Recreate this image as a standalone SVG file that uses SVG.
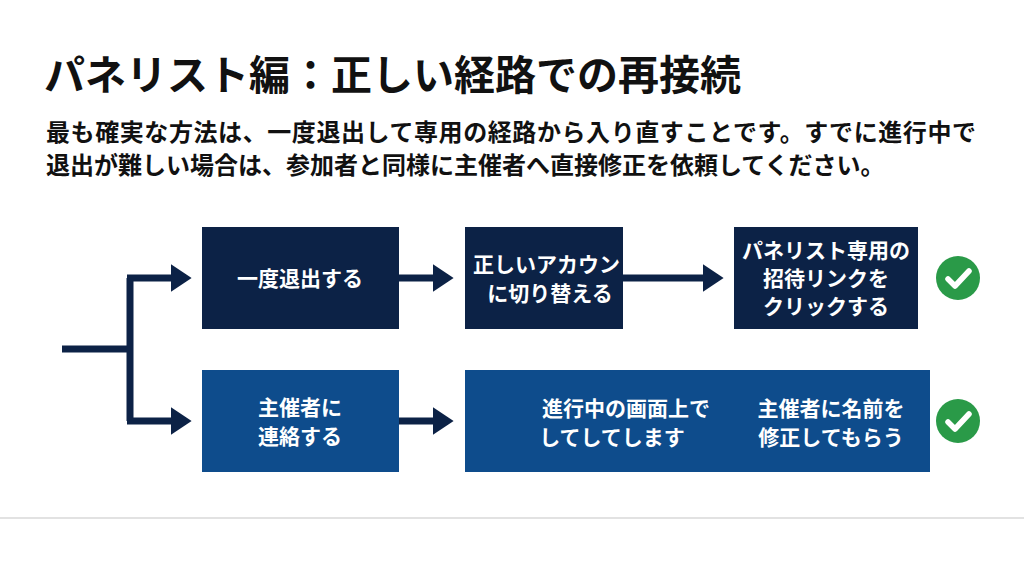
<svg xmlns="http://www.w3.org/2000/svg" width="1024" height="576" viewBox="0 0 1024 576">
<style>
text{font-family:"Noto Sans CJK JP","Noto Sans",sans-serif;font-weight:700}
.t{fill:#fff;font-size:21px;text-anchor:middle}
.dk{fill:#0c2246}.bl{fill:#0e4c8c}
.c{fill:none;stroke:#0c2246;stroke-width:7}
</style>
<defs>
<marker id="a" markerWidth="4" markerHeight="4" refX="2.2" refY="2" orient="auto" markerUnits="strokeWidth"><path d="M0,0L3,2L0,4Z" fill="#0c2246"/></marker>
<g id="chk"><circle r="22" fill="#2a9a48"/><path d="M-10,1L-3,8L11,-7" fill="none" stroke="#fff" stroke-width="5.5" stroke-linecap="round" stroke-linejoin="round"/></g>
</defs>
<rect width="1024" height="576" fill="#fff"/>
<line x1="0" y1="518" x2="1024" y2="518" stroke="#e2e2e2" stroke-width="2"/>
<text x="44" y="90" font-size="41" fill="#111">パネリスト編：正しい経路での再接続</text>
<text x="46" y="141" font-size="24" fill="#111" textLength="930">最も確実な方法は、一度退出して専用の経路から入り直すことです。すでに進行中で</text>
<text x="46" y="174" font-size="24" fill="#111">退出が難しい場合は、参加者と同様に主催者へ直接修正を依頼してください。</text>
<g id="connectors">
<path class="c" d="M62,349H130"/>
<path class="c" d="M130,278V421"/>
<path class="c" d="M127,278H186" marker-end="url(#a)"/>
<path class="c" d="M127,421H186" marker-end="url(#a)"/>
<path class="c" d="M399,278H448" marker-end="url(#a)"/>
<path class="c" d="M623,278H718" marker-end="url(#a)"/>
<path class="c" d="M399,421H448" marker-end="url(#a)"/>
</g>
<g id="n1"><rect class="dk" x="202" y="227" width="197" height="102"/><text class="t" x="300" y="286">一度退出する</text></g>
<g id="n2"><rect class="dk" x="465" y="227" width="158" height="102"/><text class="t" x="557" y="272" font-size="19">正しいアカウント</text><text class="t" x="550" y="301" font-size="19">に切り替える</text></g>
<g id="n3"><rect class="dk" x="734" y="227" width="184" height="102"/><text class="t" x="826" y="258">パネリスト専用の</text><text class="t" x="826" y="286">招待リンクを</text><text class="t" x="826" y="314">クリックする</text></g>
<g id="n4"><rect class="bl" x="202" y="370" width="197" height="102"/><text class="t" x="300" y="415">主催者に</text><text class="t" x="300" y="444">連絡する</text></g>
<g id="n5"><rect class="bl" x="465" y="370" width="465" height="102"/><text class="t" x="626" y="416">進行中の画面上で</text><text class="t" x="612" y="445">してしてします</text><text class="t" x="831" y="416">主催者に名前を</text><text class="t" x="831" y="445">修正してもらう</text></g>
<g id="ok1"><use href="#chk" x="958" y="278"/></g>
<g id="ok2"><use href="#chk" x="958" y="421"/></g>
</svg>
